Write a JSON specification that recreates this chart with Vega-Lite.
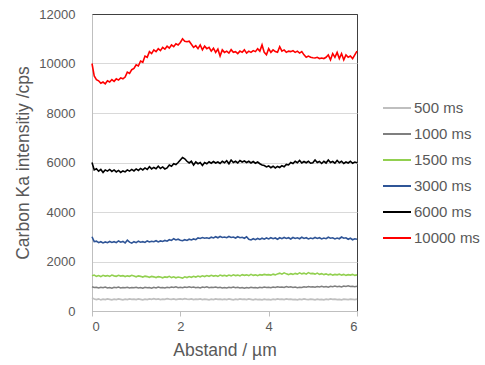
{
"$schema": "https://vega.github.io/schema/vega-lite/v6.json",
"width": 265, "height": 297,
"autosize": {"type": "none"},
"padding": {"left": 92, "top": 14, "right": 128, "bottom": 54},
"background": "white",
"config": {"view": {"stroke": "#404040", "strokeWidth": 1}, "font": "Liberation Sans"},
"data": {"values": [
{"x":0,"s500":540,"s1000":980,"s1500":1420,"s3000":3000,"s6000":6000,"s10000":10000},
{"x":0.05,"s500":480,"s1000":950,"s1500":1450,"s3000":2800,"s6000":5700,"s10000":9500},
{"x":0.1,"s500":460,"s1000":960,"s1500":1400,"s3000":2820,"s6000":5750,"s10000":9350},
{"x":0.15,"s500":490,"s1000":930,"s1500":1430,"s3000":2760,"s6000":5650,"s10000":9300},
{"x":0.2,"s500":450,"s1000":960,"s1500":1390,"s3000":2800,"s6000":5720,"s10000":9200},
{"x":0.25,"s500":480,"s1000":940,"s1500":1440,"s3000":2750,"s6000":5600,"s10000":9250},
{"x":0.3,"s500":460,"s1000":970,"s1500":1410,"s3000":2790,"s6000":5700,"s10000":9180},
{"x":0.35,"s500":490,"s1000":930,"s1500":1430,"s3000":2760,"s6000":5650,"s10000":9300},
{"x":0.4,"s500":470,"s1000":950,"s1500":1400,"s3000":2810,"s6000":5720,"s10000":9250},
{"x":0.45,"s500":450,"s1000":920,"s1500":1450,"s3000":2770,"s6000":5640,"s10000":9350},
{"x":0.5,"s500":480,"s1000":960,"s1500":1420,"s3000":2800,"s6000":5700,"s10000":9280},
{"x":0.55,"s500":460,"s1000":940,"s1500":1400,"s3000":2760,"s6000":5620,"s10000":9380},
{"x":0.6,"s500":490,"s1000":970,"s1500":1440,"s3000":2830,"s6000":5680,"s10000":9330},
{"x":0.65,"s500":470,"s1000":930,"s1500":1410,"s3000":2780,"s6000":5600,"s10000":9420},
{"x":0.7,"s500":450,"s1000":950,"s1500":1430,"s3000":2810,"s6000":5660,"s10000":9380},
{"x":0.75,"s500":480,"s1000":940,"s1500":1390,"s3000":2750,"s6000":5620,"s10000":9450},
{"x":0.8,"s500":460,"s1000":960,"s1500":1420,"s3000":2860,"s6000":5700,"s10000":9650},
{"x":0.85,"s500":490,"s1000":930,"s1500":1400,"s3000":2780,"s6000":5650,"s10000":9600},
{"x":0.9,"s500":470,"s1000":950,"s1500":1440,"s3000":2740,"s6000":5720,"s10000":9750},
{"x":0.95,"s500":480,"s1000":940,"s1500":1410,"s3000":2800,"s6000":5660,"s10000":9800},
{"x":1.0,"s500":460,"s1000":960,"s1500":1380,"s3000":2760,"s6000":5740,"s10000":9950},
{"x":1.05,"s500":490,"s1000":930,"s1500":1420,"s3000":2820,"s6000":5680,"s10000":9900},
{"x":1.1,"s500":470,"s1000":950,"s1500":1400,"s3000":2780,"s6000":5760,"s10000":10100},
{"x":1.15,"s500":450,"s1000":920,"s1500":1370,"s3000":2800,"s6000":5700,"s10000":10050},
{"x":1.2,"s500":480,"s1000":960,"s1500":1410,"s3000":2770,"s6000":5780,"s10000":10300},
{"x":1.25,"s500":460,"s1000":940,"s1500":1390,"s3000":2830,"s6000":5720,"s10000":10250},
{"x":1.3,"s500":490,"s1000":950,"s1500":1360,"s3000":2790,"s6000":5830,"s10000":10480},
{"x":1.35,"s500":470,"s1000":920,"s1500":1400,"s3000":2820,"s6000":5740,"s10000":10400},
{"x":1.4,"s500":500,"s1000":960,"s1500":1380,"s3000":2800,"s6000":5800,"s10000":10550},
{"x":1.45,"s500":470,"s1000":930,"s1500":1350,"s3000":2840,"s6000":5750,"s10000":10480},
{"x":1.5,"s500":490,"s1000":970,"s1500":1390,"s3000":2790,"s6000":5850,"s10000":10600},
{"x":1.55,"s500":460,"s1000":940,"s1500":1370,"s3000":2830,"s6000":5760,"s10000":10520},
{"x":1.6,"s500":480,"s1000":950,"s1500":1340,"s3000":2810,"s6000":5820,"s10000":10650},
{"x":1.65,"s500":470,"s1000":930,"s1500":1380,"s3000":2850,"s6000":5740,"s10000":10580},
{"x":1.7,"s500":500,"s1000":960,"s1500":1360,"s3000":2820,"s6000":5780,"s10000":10700},
{"x":1.75,"s500":480,"s1000":940,"s1500":1400,"s3000":2880,"s6000":5900,"s10000":10620},
{"x":1.8,"s500":470,"s1000":970,"s1500":1350,"s3000":2850,"s6000":5850,"s10000":10750},
{"x":1.85,"s500":490,"s1000":950,"s1500":1380,"s3000":2920,"s6000":5950,"s10000":10680},
{"x":1.9,"s500":460,"s1000":980,"s1500":1340,"s3000":2870,"s6000":5920,"s10000":10800},
{"x":1.95,"s500":480,"s1000":940,"s1500":1370,"s3000":2900,"s6000":6000,"s10000":10750},
{"x":2.0,"s500":490,"s1000":960,"s1500":1350,"s3000":2860,"s6000":6100,"s10000":10850},
{"x":2.05,"s500":470,"s1000":940,"s1500":1330,"s3000":2840,"s6000":6200,"s10000":11000},
{"x":2.1,"s500":500,"s1000":970,"s1500":1380,"s3000":2880,"s6000":6150,"s10000":10900},
{"x":2.15,"s500":480,"s1000":950,"s1500":1350,"s3000":2850,"s6000":6050,"s10000":10880},
{"x":2.2,"s500":470,"s1000":980,"s1500":1390,"s3000":2900,"s6000":5980,"s10000":10900},
{"x":2.25,"s500":490,"s1000":950,"s1500":1360,"s3000":2870,"s6000":6050,"s10000":10780},
{"x":2.3,"s500":460,"s1000":970,"s1500":1400,"s3000":2910,"s6000":5900,"s10000":10650},
{"x":2.35,"s500":480,"s1000":940,"s1500":1370,"s3000":2880,"s6000":6020,"s10000":10720},
{"x":2.4,"s500":470,"s1000":960,"s1500":1410,"s3000":2950,"s6000":5950,"s10000":10600},
{"x":2.45,"s500":490,"s1000":930,"s1500":1380,"s3000":2930,"s6000":6000,"s10000":10750},
{"x":2.5,"s500":460,"s1000":970,"s1500":1420,"s3000":2970,"s6000":5880,"s10000":10550},
{"x":2.55,"s500":480,"s1000":950,"s1500":1390,"s3000":2940,"s6000":6000,"s10000":10700},
{"x":2.6,"s500":470,"s1000":980,"s1500":1430,"s3000":2960,"s6000":5950,"s10000":10600},
{"x":2.65,"s500":450,"s1000":940,"s1500":1400,"s3000":2930,"s6000":6030,"s10000":10650},
{"x":2.7,"s500":480,"s1000":960,"s1500":1440,"s3000":2980,"s6000":5970,"s10000":10500},
{"x":2.75,"s500":460,"s1000":950,"s1500":1410,"s3000":2950,"s6000":6040,"s10000":10620},
{"x":2.8,"s500":490,"s1000":970,"s1500":1430,"s3000":3000,"s6000":5980,"s10000":10450},
{"x":2.85,"s500":470,"s1000":940,"s1500":1400,"s3000":2960,"s6000":6020,"s10000":10580},
{"x":2.9,"s500":480,"s1000":960,"s1500":1450,"s3000":3010,"s6000":5960,"s10000":10300},
{"x":2.95,"s500":460,"s1000":930,"s1500":1420,"s3000":2970,"s6000":6050,"s10000":10550},
{"x":3.0,"s500":480,"s1000":950,"s1500":1440,"s3000":2990,"s6000":5990,"s10000":10450},
{"x":3.05,"s500":460,"s1000":930,"s1500":1410,"s3000":2960,"s6000":6070,"s10000":10500},
{"x":3.1,"s500":490,"s1000":960,"s1500":1450,"s3000":3010,"s6000":5950,"s10000":10420},
{"x":3.15,"s500":470,"s1000":940,"s1500":1420,"s3000":2970,"s6000":6100,"s10000":10560},
{"x":3.2,"s500":450,"s1000":970,"s1500":1460,"s3000":2990,"s6000":6000,"s10000":10450},
{"x":3.25,"s500":480,"s1000":940,"s1500":1430,"s3000":2950,"s6000":6050,"s10000":10480},
{"x":3.3,"s500":460,"s1000":960,"s1500":1450,"s3000":3000,"s6000":5980,"s10000":10400},
{"x":3.35,"s500":490,"s1000":930,"s1500":1420,"s3000":2960,"s6000":6080,"s10000":10500},
{"x":3.4,"s500":470,"s1000":950,"s1500":1470,"s3000":2980,"s6000":6020,"s10000":10450},
{"x":3.45,"s500":480,"s1000":920,"s1500":1440,"s3000":2940,"s6000":6060,"s10000":10550},
{"x":3.5,"s500":460,"s1000":950,"s1500":1460,"s3000":3000,"s6000":6000,"s10000":10420},
{"x":3.55,"s500":490,"s1000":930,"s1500":1430,"s3000":2900,"s6000":6050,"s10000":10500},
{"x":3.6,"s500":470,"s1000":960,"s1500":1480,"s3000":2870,"s6000":5980,"s10000":10450},
{"x":3.65,"s500":450,"s1000":940,"s1500":1440,"s3000":2920,"s6000":6040,"s10000":10520},
{"x":3.7,"s500":480,"s1000":950,"s1500":1460,"s3000":2880,"s6000":5970,"s10000":10480},
{"x":3.75,"s500":460,"s1000":930,"s1500":1430,"s3000":2930,"s6000":6020,"s10000":10600},
{"x":3.8,"s500":470,"s1000":960,"s1500":1470,"s3000":2890,"s6000":5950,"s10000":10500},
{"x":3.85,"s500":450,"s1000":940,"s1500":1450,"s3000":2940,"s6000":5900,"s10000":10750},
{"x":3.9,"s500":480,"s1000":970,"s1500":1480,"s3000":2900,"s6000":5880,"s10000":10450},
{"x":3.95,"s500":460,"s1000":950,"s1500":1460,"s3000":2950,"s6000":5820,"s10000":10350},
{"x":4.0,"s500":470,"s1000":960,"s1500":1470,"s3000":2910,"s6000":5860,"s10000":10600},
{"x":4.05,"s500":450,"s1000":940,"s1500":1450,"s3000":2960,"s6000":5790,"s10000":10450},
{"x":4.1,"s500":480,"s1000":970,"s1500":1490,"s3000":2920,"s6000":5850,"s10000":10550},
{"x":4.15,"s500":460,"s1000":950,"s1500":1460,"s3000":2950,"s6000":5780,"s10000":10480},
{"x":4.2,"s500":490,"s1000":980,"s1500":1500,"s3000":2900,"s6000":5840,"s10000":10450},
{"x":4.25,"s500":470,"s1000":960,"s1500":1530,"s3000":2960,"s6000":5800,"s10000":10680},
{"x":4.3,"s500":480,"s1000":970,"s1500":1490,"s3000":2920,"s6000":5870,"s10000":10500},
{"x":4.35,"s500":460,"s1000":950,"s1500":1540,"s3000":2970,"s6000":5830,"s10000":10550},
{"x":4.4,"s500":490,"s1000":990,"s1500":1500,"s3000":2930,"s6000":5920,"s10000":10450},
{"x":4.45,"s500":470,"s1000":960,"s1500":1470,"s3000":2960,"s6000":5900,"s10000":10500},
{"x":4.5,"s500":480,"s1000":980,"s1500":1510,"s3000":2910,"s6000":6000,"s10000":10480},
{"x":4.55,"s500":460,"s1000":950,"s1500":1480,"s3000":2970,"s6000":5960,"s10000":10520},
{"x":4.6,"s500":470,"s1000":970,"s1500":1520,"s3000":2930,"s6000":6050,"s10000":10450},
{"x":4.65,"s500":450,"s1000":940,"s1500":1490,"s3000":2960,"s6000":5990,"s10000":10500},
{"x":4.7,"s500":480,"s1000":960,"s1500":1540,"s3000":2920,"s6000":6080,"s10000":10420},
{"x":4.75,"s500":460,"s1000":950,"s1500":1500,"s3000":2980,"s6000":5980,"s10000":10480},
{"x":4.8,"s500":490,"s1000":980,"s1500":1530,"s3000":2930,"s6000":6040,"s10000":10350},
{"x":4.85,"s500":470,"s1000":960,"s1500":1490,"s3000":2960,"s6000":5990,"s10000":10250},
{"x":4.9,"s500":460,"s1000":990,"s1500":1550,"s3000":2910,"s6000":6050,"s10000":10300},
{"x":4.95,"s500":480,"s1000":970,"s1500":1510,"s3000":2950,"s6000":5970,"s10000":10250},
{"x":5.0,"s500":470,"s1000":980,"s1500":1520,"s3000":2920,"s6000":5990,"s10000":10230},
{"x":5.05,"s500":450,"s1000":960,"s1500":1490,"s3000":2970,"s6000":6100,"s10000":10220},
{"x":5.1,"s500":480,"s1000":990,"s1500":1530,"s3000":2930,"s6000":6000,"s10000":10250},
{"x":5.15,"s500":460,"s1000":970,"s1500":1480,"s3000":2960,"s6000":6040,"s10000":10200},
{"x":5.2,"s500":470,"s1000":1000,"s1500":1510,"s3000":2910,"s6000":5960,"s10000":10220},
{"x":5.25,"s500":450,"s1000":970,"s1500":1470,"s3000":2950,"s6000":6050,"s10000":10200},
{"x":5.3,"s500":480,"s1000":990,"s1500":1500,"s3000":2920,"s6000":5980,"s10000":10250},
{"x":5.35,"s500":460,"s1000":960,"s1500":1460,"s3000":2980,"s6000":6100,"s10000":10350},
{"x":5.4,"s500":490,"s1000":1000,"s1500":1490,"s3000":2940,"s6000":6000,"s10000":10150},
{"x":5.45,"s500":470,"s1000":980,"s1500":1450,"s3000":2960,"s6000":6040,"s10000":10400},
{"x":5.5,"s500":480,"s1000":1010,"s1500":1480,"s3000":2910,"s6000":5970,"s10000":10250},
{"x":5.55,"s500":460,"s1000":980,"s1500":1460,"s3000":2950,"s6000":6080,"s10000":10450},
{"x":5.6,"s500":470,"s1000":1000,"s1500":1490,"s3000":2920,"s6000":5990,"s10000":10200},
{"x":5.65,"s500":450,"s1000":970,"s1500":1450,"s3000":2990,"s6000":6050,"s10000":10400},
{"x":5.7,"s500":480,"s1000":1010,"s1500":1480,"s3000":2940,"s6000":5960,"s10000":10150},
{"x":5.75,"s500":470,"s1000":990,"s1500":1440,"s3000":2960,"s6000":6020,"s10000":10350},
{"x":5.8,"s500":460,"s1000":1020,"s1500":1470,"s3000":2900,"s6000":5980,"s10000":10250},
{"x":5.85,"s500":480,"s1000":990,"s1500":1450,"s3000":2940,"s6000":6050,"s10000":10300},
{"x":5.9,"s500":470,"s1000":1000,"s1500":1480,"s3000":2880,"s6000":5970,"s10000":10200},
{"x":5.95,"s500":460,"s1000":980,"s1500":1440,"s3000":2920,"s6000":6020,"s10000":10350},
{"x":6.0,"s500":480,"s1000":1000,"s1500":1460,"s3000":2900,"s6000":5990,"s10000":10500}
]},
"transform": [{"fold": ["s500","s1000","s1500","s3000","s6000","s10000"], "as": ["series","value"]}],
"mark": {"type": "line", "strokeWidth": 1.6},
"encoding": {
  "x": {"field": "x", "type": "quantitative",
    "scale": {"domain": [0, 6], "nice": false},
    "axis": {"values": [0,2,4,6], "format": "d", "title": "Abstand / µm", "grid": false,
      "domainColor": "#BFBFBF", "tickColor": "#BFBFBF", "tickSize": 5,
      "labelColor": "#595959", "labelFontSize": 13, "labelPadding": 4,
      "titleColor": "#595959", "titleFontSize": 17.5, "titleFontWeight": "normal", "titlePadding": 8}},
  "y": {"field": "value", "type": "quantitative",
    "scale": {"domain": [0, 12000], "nice": false},
    "axis": {"values": [0,2000,4000,6000,8000,10000,12000], "format": "d", "title": "Carbon Ka intensitiy /cps",
      "ticks": false, "labelPadding": 17, "domainColor": "#BFBFBF",
      "gridColor": {"condition": {"test": "datum.value == 12000", "value": "#404040"}, "value": "#D9D9D9"},
      "labelColor": "#595959", "labelFontSize": 13,
      "titleColor": "#595959", "titleFontSize": 17.5, "titleFontWeight": "normal", "titlePadding": 6}},
  "color": {"field": "series", "type": "nominal",
    "scale": {"domain": ["s500","s1000","s1500","s3000","s6000","s10000"],
      "range": ["#BFBFBF","#7F7F7F","#92D050","#2F5597","#000000","#FF0000"]},
    "legend": {"title": null, "orient": "none", "legendX": 290, "legendY": 79,
      "symbolType": "stroke", "symbolSize": 784, "symbolStrokeWidth": 2,
      "labelFontSize": 15, "labelColor": "#595959", "rowPadding": 3, "labelOffset": 2,
      "labelExpr": "replace(datum.label, 's', '') + ' ms'"}}
}
}
